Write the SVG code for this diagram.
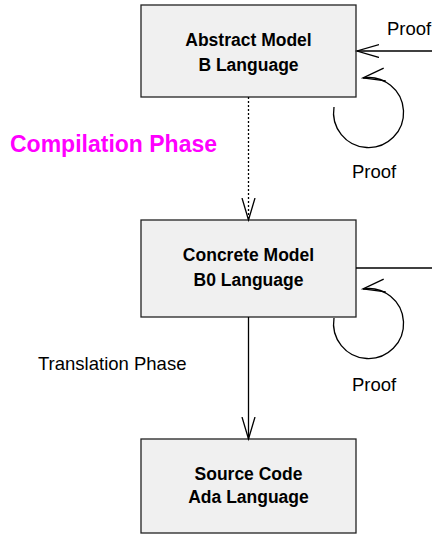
<svg xmlns="http://www.w3.org/2000/svg" width="432" height="535" viewBox="0 0 432 535">
<style>
.box{fill:#f0f0f0;stroke:#222;stroke-width:1.3}
.bt{font-family:"Liberation Sans",Arial,sans-serif;font-weight:bold;font-size:17.5px;text-anchor:middle;fill:#000}
.lt{font-family:"Liberation Sans",Arial,sans-serif;font-size:18.5px;fill:#000}
.ct{font-family:"Liberation Sans",Arial,sans-serif;font-weight:bold;font-size:23px;fill:#ff00ff}
.c{fill:none;stroke:#000;stroke-width:1.3}
.dot{stroke-dasharray:2,2}
</style>
<defs>
<marker id="v" markerUnits="userSpaceOnUse" markerWidth="30" markerHeight="20" refX="22" refY="7" orient="auto" viewBox="0 0 30 20">
<path d="M0,0.5 L22,7 L0,13.5" fill="none" stroke="#000" stroke-width="1.3"/>
</marker>
</defs>
<g id="abstract">
<rect class="box" x="141" y="5" width="215" height="92"/>
<text class="bt" x="248.5" y="46">Abstract Model</text>
<text class="bt" x="248.5" y="71">B Language</text>
</g>
<g id="concrete">
<rect class="box" x="141" y="220" width="215" height="97"/>
<text class="bt" x="248.5" y="261">Concrete Model</text>
<text class="bt" x="248.5" y="286">B0 Language</text>
</g>
<g id="source">
<rect class="box" x="141" y="439" width="215" height="94"/>
<text class="bt" x="248.5" y="480">Source Code</text>
<text class="bt" x="248.5" y="503">Ada Language</text>
</g>
<g id="connectors">
<path class="c" d="M432,51 L357,51" marker-end="url(#v)"/>
<path class="c" d="M334,107 A35,35 0 1 0 363,78" marker-end="url(#v)"/>
<path class="c dot" d="M248.5,97 L248.5,220" marker-end="url(#v)"/>
<path class="c" d="M356,268 L432,268"/>
<path class="c" d="M334,318 A35,35 0 1 0 363,289" marker-end="url(#v)"/>
<path class="c" d="M248.5,317 L248.5,439" marker-end="url(#v)"/>
</g>
<g id="labels">
<text class="lt" x="387" y="35">Proof</text>
<text class="lt" x="352" y="178">Proof</text>
<text class="lt" x="352" y="391">Proof</text>
<text class="lt" x="38" y="370">Translation Phase</text>
<text class="ct" x="10" y="152">Compilation Phase</text>
</g>
</svg>
